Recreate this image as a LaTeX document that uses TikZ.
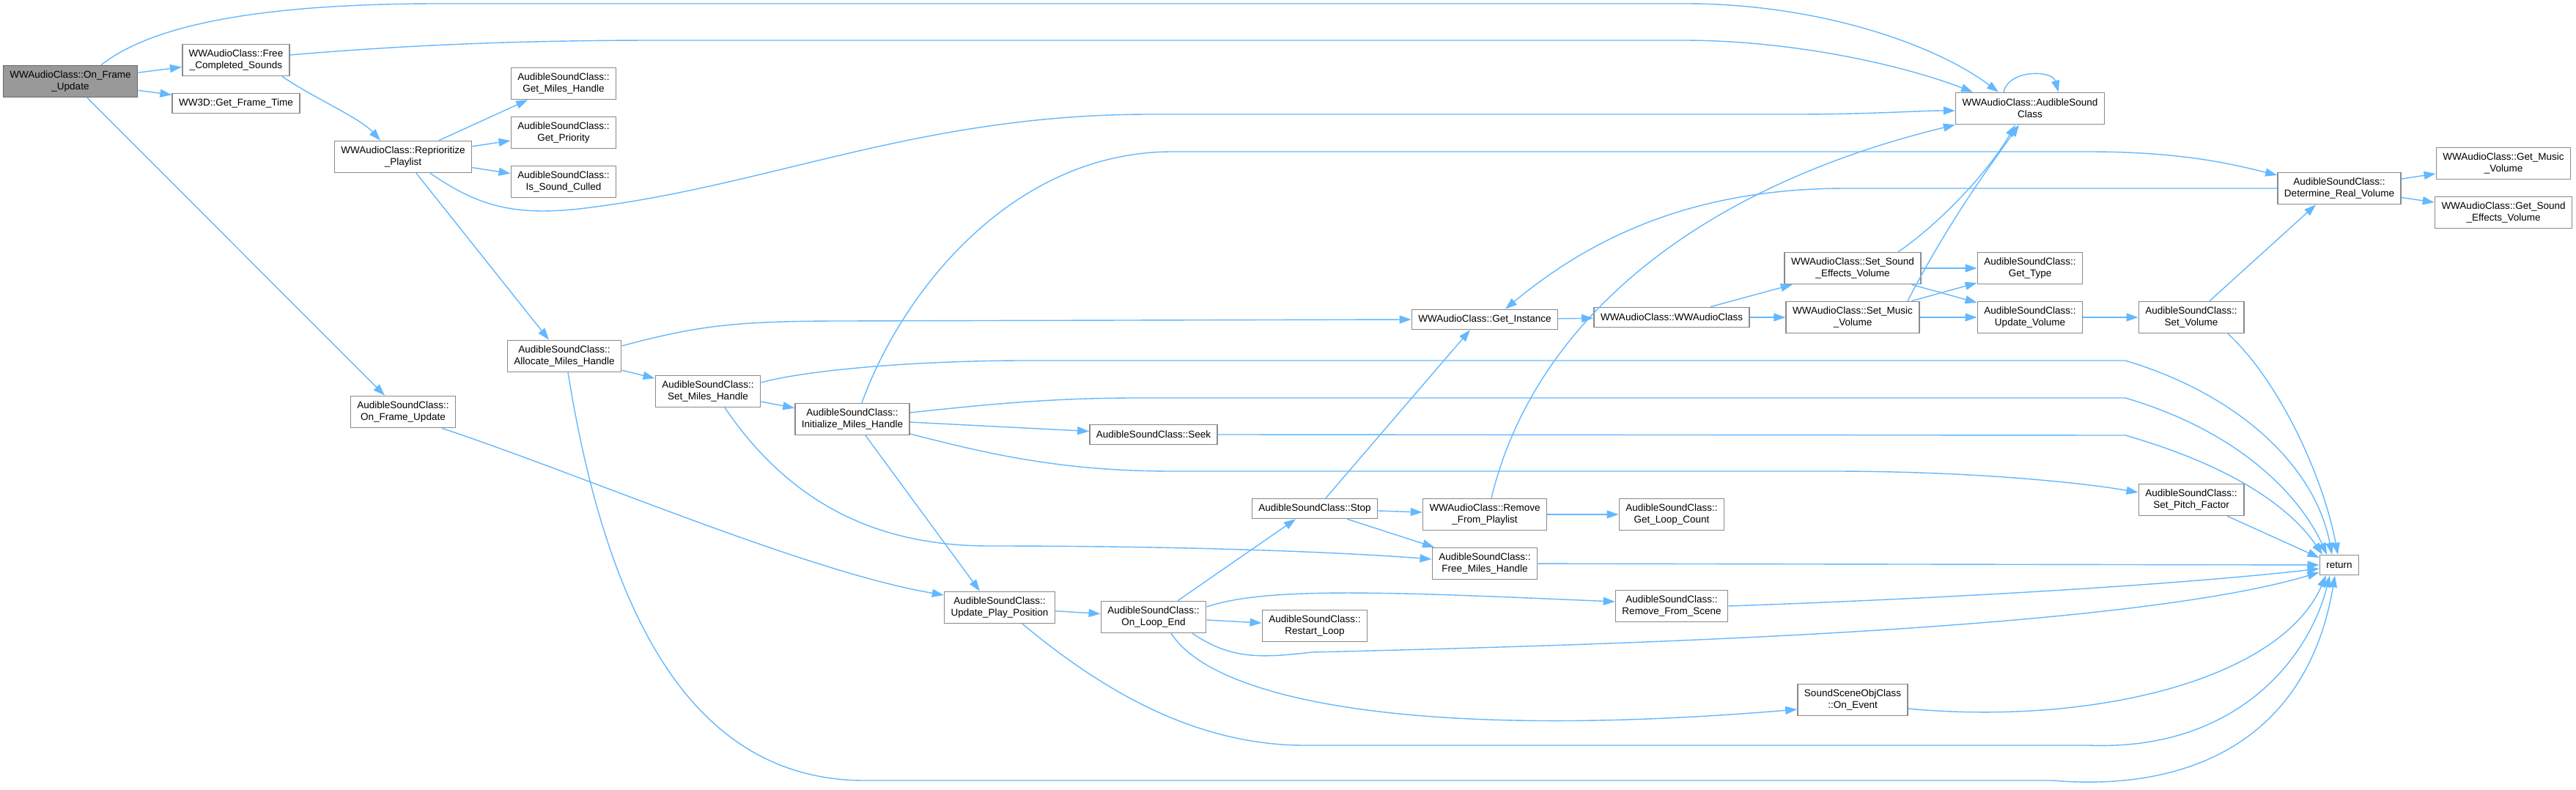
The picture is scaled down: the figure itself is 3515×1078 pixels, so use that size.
\documentclass[tikz,border=0pt]{standalone}
\usepackage{fontspec}
\newfontfamily\dxfont{Liberation Sans}
\usepackage{tikz}
\usetikzlibrary{arrows.meta}
\definecolor{edgeblue}{HTML}{63B8FF}
\definecolor{boxgray}{HTML}{8A8A8A}
\definecolor{curgray}{HTML}{999999}

\begin{document}
\begin{tikzpicture}[x=1pt, y=-1pt,
  fn/.style   = {draw=boxgray, fill=white, line width=1.6pt, inner xsep=9pt, inner ysep=2pt,
                 minimum height=27pt, align=center, font=\dxfont\fontsize{13.5}{16}\selectfont},
  fnn/.style  = {fn, minimum height=43pt},
  cur/.style  = {fnn, fill=curgray, draw=black!60},
  call/.style = {draw=edgeblue, line width=1.4pt, -{Triangle[length=16pt,width=11pt]}}
]
\useasboundingbox (0,0) rectangle (3515,1078);

% --- colonnes 1 a 4 ---
\node[cur] (root) at (96,111) {WWAudioClass::On\_Frame\\\_Update};
\node[fnn] (fcs)  at (322,82)  {WWAudioClass::Free\\\_Completed\_Sounds};
\node[fn]  (gft)  at (322,141) {WW3D::Get\_Frame\_Time};
\node[fnn] (rpl)  at (550,214) {WWAudioClass::Reprioritize\\\_Playlist};
\node[fnn] (ofu)  at (550,562) {AudibleSoundClass::\\On\_Frame\_Update};
\node[fnn] (gmh)  at (769,114) {AudibleSoundClass::\\Get\_Miles\_Handle};
\node[fnn] (gpr)  at (769,181) {AudibleSoundClass::\\Get\_Priority};
\node[fnn] (isc)  at (769,248) {AudibleSoundClass::\\Is\_Sound\_Culled};
\node[fnn] (amh)  at (770,486) {AudibleSoundClass::\\Allocate\_Miles\_Handle};

% --- colonnes 5 a 9 ---
\node[fnn] (smh)  at (966,534)  {AudibleSoundClass::\\Set\_Miles\_Handle};
\node[fnn] (imh)  at (1163,572) {AudibleSoundClass::\\Initialize\_Miles\_Handle};
\node[fnn] (upp)  at (1364,829) {AudibleSoundClass::\\Update\_Play\_Position};
\node[fn]  (seek) at (1574,593) {AudibleSoundClass::Seek};
\node[fnn] (ole)  at (1574,842) {AudibleSoundClass::\\On\_Loop\_End};
\node[fn]  (stop) at (1794,694) {AudibleSoundClass::Stop};
\node[fnn] (rsl)  at (1794,854) {AudibleSoundClass::\\Restart\_Loop};

% --- colonnes 10 a 12 ---
\node[fn]  (gin)  at (2026,436) {WWAudioClass::Get\_Instance};
\node[fnn] (rfp)  at (2026,702) {WWAudioClass::Remove\\\_From\_Playlist};
\node[fnn] (fmh)  at (2026,769) {AudibleSoundClass::\\Free\_Miles\_Handle};
\node[fn]  (wwa)  at (2281,433) {WWAudioClass::WWAudioClass};
\node[fnn] (glc)  at (2281,702) {AudibleSoundClass::\\Get\_Loop\_Count};
\node[fnn] (rfs)  at (2281,827) {AudibleSoundClass::\\Remove\_From\_Scene};
\node[fnn] (ssev) at (2528,366) {WWAudioClass::Set\_Sound\\\_Effects\_Volume};
\node[fnn] (smv)  at (2528,433) {WWAudioClass::Set\_Music\\\_Volume};
\node[fnn] (oev)  at (2528,955) {SoundSceneObjClass\\::On\_Event};

% --- colonnes 13 a 16 ---
\node[fnn] (asc)  at (2770,148) {WWAudioClass::AudibleSound\\Class};
\node[fnn] (gty)  at (2770,366) {AudibleSoundClass::\\Get\_Type};
\node[fnn] (uvol) at (2770,433) {AudibleSoundClass::\\Update\_Volume};
\node[fnn] (svol) at (2990,433) {AudibleSoundClass::\\Set\_Volume};
\node[fnn] (spf)  at (2990,682) {AudibleSoundClass::\\Set\_Pitch\_Factor};
\node[fnn] (drv)  at (3192,257) {AudibleSoundClass::\\Determine\_Real\_Volume};
\node[fn]  (ret)  at (3192,771) {return};
\node[fnn] (gmv)  at (3416,223) {WWAudioClass::Get\_Music\\\_Volume};
\node[fnn] (gsev) at (3416,290) {WWAudioClass::Get\_Sound\\\_Effects\_Volume};

% --- appels depuis On_Frame_Update ---
\draw[call] (root) -- (fcs);
\draw[call] (root) -- (gft);
\draw[call] ([xshift=23pt]root.south) -- ([xshift=-25pt]ofu.north);
\draw[call] ([xshift=42pt]root.north) .. controls (200,40) and (330,5) .. (600,5) -- (2300,5)
  .. controls (2480,5) and (2640,60) .. ([xshift=-43pt]asc.north);
\draw[call] ([yshift=7pt]fcs.east) .. controls (550,62) and (700,55) .. (900,55) -- (2296,55)
  .. controls (2450,55) and (2600,90) .. ([xshift=-78pt]asc.north);
\draw[call] ([xshift=63pt]fcs.south) .. controls (430,135) and (490,160) .. ([xshift=-31pt]rpl.north);

% --- Reprioritize_Playlist ---
\draw[call] (rpl) -- (gmh);
\draw[call] (rpl) -- (gpr);
\draw[call] (rpl) -- (isc);
\draw[call] ([xshift=18pt]rpl.south) -- ([xshift=-21pt]amh.north);
\draw[call] ([xshift=37pt]rpl.south) .. controls (650,280) and (700,295) .. (790,285)
  .. controls (1050,255) and (1250,156) .. (1570,156) -- (2450,156)
  .. controls (2550,156) and (2620,151) .. ([yshift=-3pt]asc.west);

% --- Allocate / Set / Initialize ---
\draw[call] (amh) -- (smh);
\draw[call] ([yshift=14pt]amh.east) .. controls (950,445) and (1000,438) .. (1150,438) -- (gin.west);
\draw[call] ([xshift=5pt]amh.south) .. controls (830,850) and (950,1065) .. (1180,1065) -- (2800,1065)
  .. controls (3000,1082) and (3150,1000) .. ([xshift=-6pt]ret.south);
\draw[call] ([xshift=53pt]ofu.south) .. controls (800,650) and (1100,780) .. ([yshift=17pt]upp.west);
\draw[call] (smh) -- (imh);
\draw[call] ([yshift=12pt]smh.east) .. controls (1100,505) and (1250,492) .. (1400,492) -- (2900,492)
  .. controls (3060,540) and (3160,640) .. ([xshift=-10pt]ret.north);
\draw[call] ([xshift=23pt]smh.south) .. controls (1080,690) and (1200,745) .. (1350,745)
  .. controls (1650,745) and (1850,755) .. ([yshift=6pt]fmh.west);
\draw[call] ([yshift=9pt]imh.east) .. controls (1320,555) and (1420,543) .. (1550,543) -- (2900,543)
  .. controls (3060,590) and (3140,680) .. ([xshift=-17pt]ret.north);
\draw[call] (imh) -- (seek);
\draw[call] ([yshift=-20pt]imh.east) .. controls (1350,620) and (1450,643) .. (1600,643) -- (2500,643)
  .. controls (2700,643) and (2850,660) .. ([yshift=10pt]spf.west);
\draw[call] ([xshift=13pt]imh.north) .. controls (1230,400) and (1380,207) .. (1600,207) -- (2850,207)
  .. controls (2980,207) and (3050,225) .. ([yshift=18pt]drv.west);
\draw[call] ([xshift=18pt]imh.south) -- ([xshift=-27pt]upp.north);
\draw[call] (seek.east) -- (2900,594) .. controls (3060,640) and (3130,700) .. ([xshift=-23pt]ret.north);

% --- Update_Play_Position / On_Loop_End ---
\draw[call] (upp) -- (ole);
\draw[call] ([xshift=31pt]upp.south) .. controls (1490,930) and (1620,1017) .. (1780,1017) -- (2850,1017)
  .. controls (3050,1025) and (3150,900) .. ([xshift=-13pt]ret.south);
\draw[call] ([xshift=33pt]ole.north) -- ([xshift=-26pt]stop.south);
\draw[call] (ole) -- (rsl);
\draw[call] ([yshift=14pt]ole.east) .. controls (1730,800) and (1900,808) .. ([yshift=6pt]rfs.west);
\draw[call] ([xshift=53pt]ole.south) .. controls (1680,900) and (1720,898) .. (1790,890)
  .. controls (2200,880) and (2900,860) .. ([yshift=-10pt]ret.west);
\draw[call] ([xshift=24pt]ole.south) .. controls (1660,960) and (1950,1010) .. ([yshift=-13pt]oev.west);
\draw[call] (rfs.east) .. controls (2700,815) and (3000,795) .. ([yshift=-5pt]ret.west);
\draw[call] ([yshift=-12pt]oev.east) .. controls (2850,990) and (3110,930) .. ([xshift=-18pt]ret.south);

% --- Stop / Remove_From_Playlist ---
\draw[call] ([xshift=15pt]stop.north) -- ([xshift=-20pt]gin.south);
\draw[call] (stop) -- (rfp);
\draw[call] (stop) -- (fmh);
\draw[call] (rfp) -- (glc);
\draw[call] ([xshift=9pt]rfp.north) .. controls (2090,450) and (2300,260) .. (asc.south west);
\draw[call] (fmh) -- (ret);

% --- WWAudioClass et volumes ---
\draw[call] (gin) -- (wwa);
\draw[call] (wwa) -- (ssev);
\draw[call] (wwa) -- (smv);
\draw[call] (ssev) -- (gty);
\draw[call] (ssev) -- (uvol);
\draw[call] (smv) -- (gty);
\draw[call] (smv) -- (uvol);
\draw[call] ([xshift=62pt]ssev.north) .. controls (2640,310) and (2710,240) .. ([xshift=-20pt]asc.south);
\draw[call] ([xshift=75pt]smv.north) .. controls (2660,300) and (2720,220) .. ([xshift=-15pt]asc.south);
\draw[call] (uvol) -- (svol);
\draw[call] ([xshift=25pt]svol.north) -- ([xshift=-32pt]drv.south);
\draw[call] ([xshift=50pt]svol.south) .. controls (3110,520) and (3170,650) .. ([xshift=-2pt]ret.north);
\draw[call] (spf) -- ([yshift=10pt]ret.west);
\draw[call] (drv) -- (gmv);
\draw[call] (drv) -- (gsev);
\draw[call] (drv.west) -- (2520,257) .. controls (2350,257) and (2200,300) .. ([xshift=28pt]gin.north);
\draw[call] ([xshift=-36pt]asc.north) .. controls (2740,95) and (2800,95) .. ([xshift=39pt]asc.north);
\end{tikzpicture}
\end{document}
